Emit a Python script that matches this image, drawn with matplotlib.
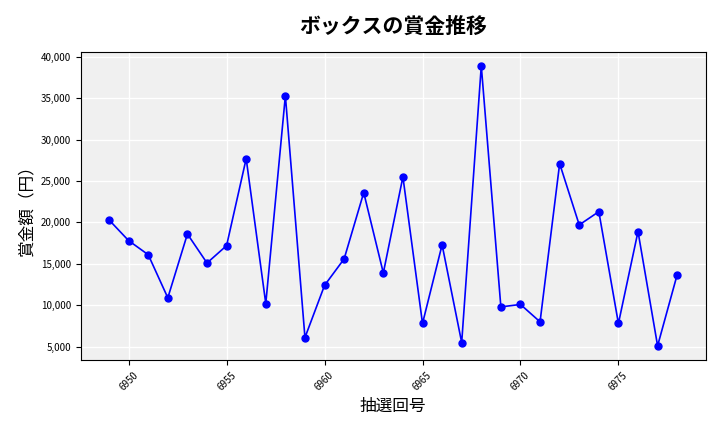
import matplotlib
matplotlib.use('Agg')
import matplotlib.pyplot as plt
from matplotlib.ticker import FuncFormatter

plt.rcParams['font.family'] = ['Noto Sans CJK JP', 'DejaVu Sans']

draws = list(range(6949, 6979))
prizes = [20300, 17800, 16100, 10900, 18600, 15100, 17200, 27700, 10200, 35300,
          6100, 12400, 15600, 23600, 13900, 25500, 7800, 17300, 5500, 38900,
          9800, 10100, 8000, 27100, 19700, 21300, 7800, 18900, 5100, 13700]

fig, ax = plt.subplots(figsize=(7.2, 4.32), dpi=100)
ax.set_facecolor('#f0f0f0')
ax.grid(True, color='white', linewidth=1)
ax.set_axisbelow(True)
ax.plot(draws, prizes, color='blue', marker='o', markersize=5, linewidth=1.2)
ax.set_title('ボックスの賞金推移', fontsize=15, fontweight='bold', pad=14)
ax.set_xlabel('抽選回号', fontsize=12)
ax.set_ylabel('賞金額（円）', fontsize=12)
ax.yaxis.set_major_formatter(FuncFormatter(lambda v, p: f'{int(v):,}'))
ax.tick_params(axis='x', labelrotation=45, labelsize=7)
ax.tick_params(axis='y', labelsize=7)
fig.subplots_adjust(left=0.112, right=0.98, top=0.88, bottom=0.167)
fig.savefig('out.png')
